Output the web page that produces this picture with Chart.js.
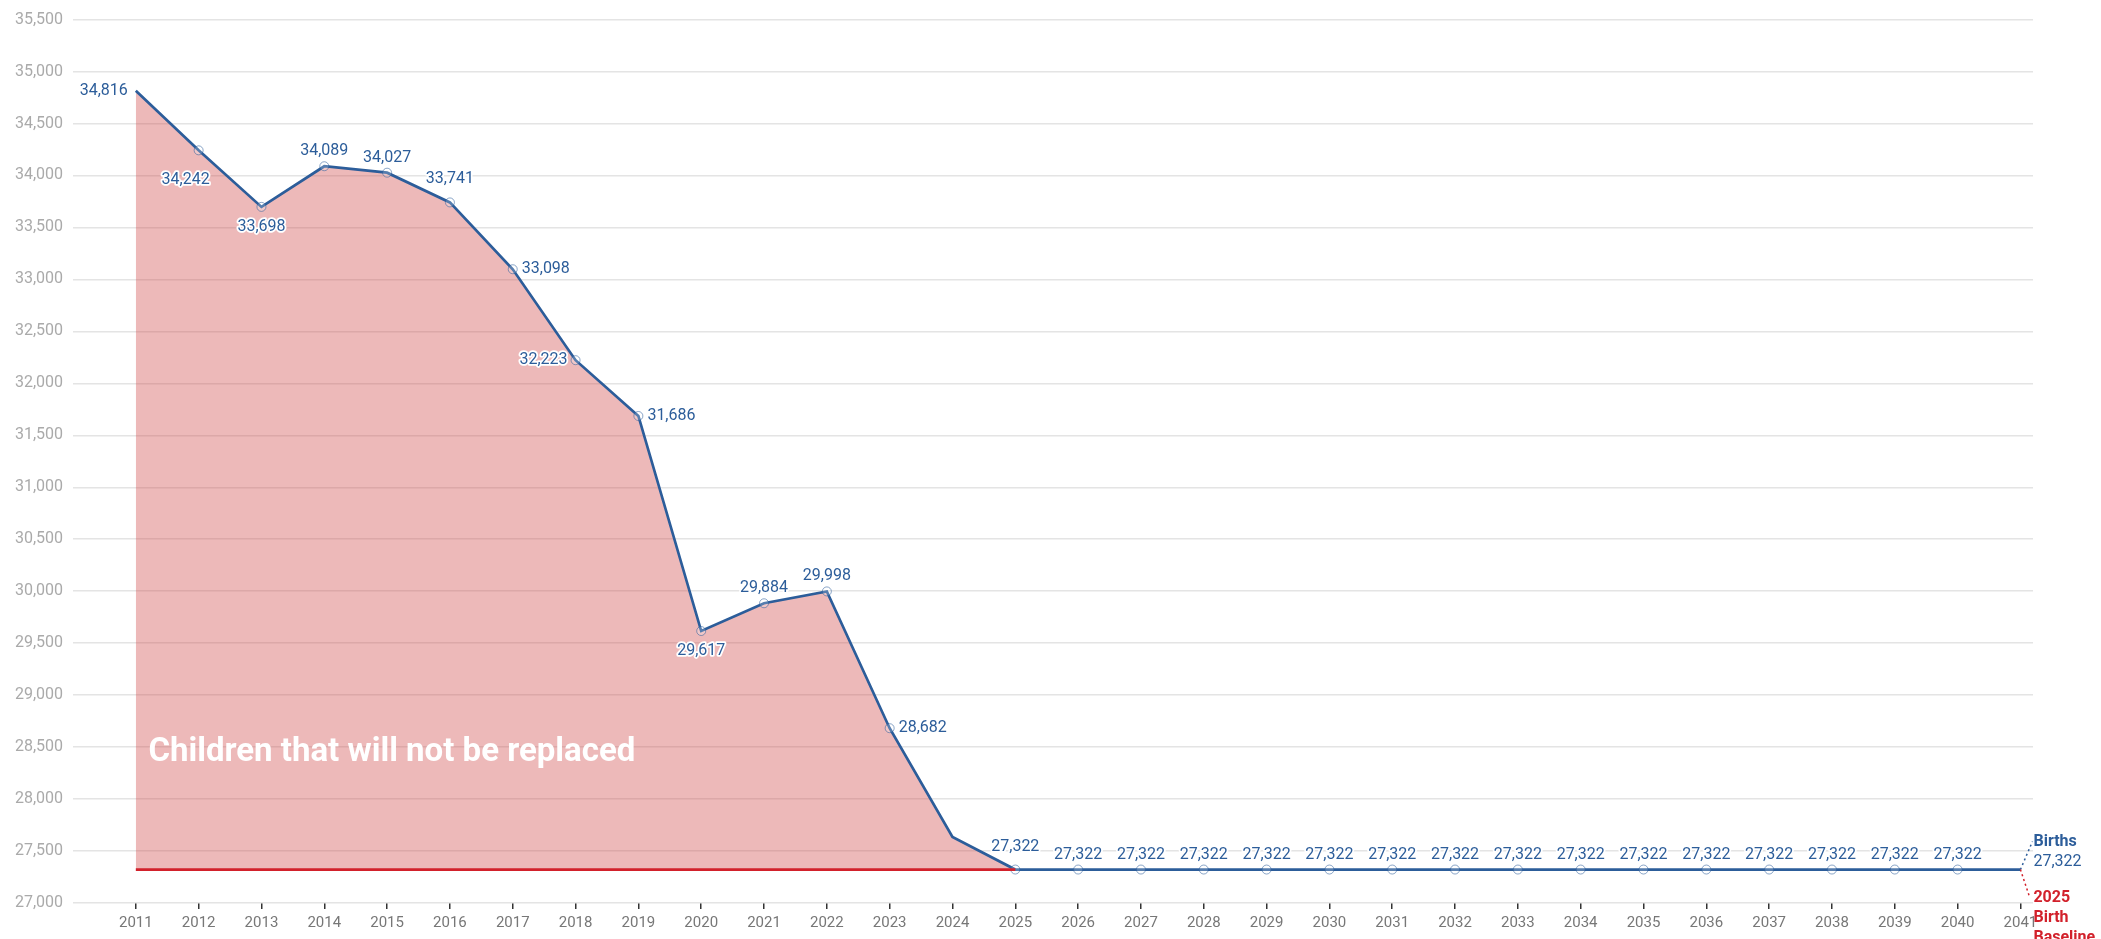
<!DOCTYPE html>
<html><head><meta charset="utf-8">
<script src="https://cdn.jsdelivr.net/npm/chart.js@4.4.1/dist/chart.umd.min.js"></script>
<style>html,body{margin:0;padding:0;background:#fff}#wrap{width:2101px;height:939px;position:relative}</style>
</head><body><div id="wrap"><canvas id="c"></canvas></div>
<script>
// ---- data ----
const years = [2011,2012,2013,2014,2015,2016,2017,2018,2019,2020,2021,2022,2023,2024,2025,2026,2027,2028,2029,2030,2031,2032,2033,2034,2035,2036,2037,2038,2039,2040,2041];
const births = [34816,34242,33698,34089,34027,33741,33098,32223,31686,29617,29884,29998,28682,27635,27322,27322,27322,27322,27322,27322,27322,27322,27322,27322,27322,27322,27322,27322,27322,27322,27322];
const baselineYears = [2011,2025];
const baselineValue = 27322;
const areaLabel = 'Children that will not be replaced';
const birthsEndLabel = ['Births','27,322'];
const baselineEndLabel = ['2025','Birth','Baseline'];
// label placement codes for each births point
const labelPlacement = ['left','belowLeft','below','above','above','aboveHigh','right','left','right','below','above','above','right','none','aboveHigh',
  'above','above','above','above','above','above','above','above','above','above','above','above','above','above','above','none'];

const BLUE = '#2c5d9a', RED = '#d2212b';
const fmt = v => Number(v).toLocaleString('en-US');

const labelPlugin = {
  id:'labels',
  afterDatasetsDraw(chart){
    const ctx = chart.ctx;
    const meta = chart.getDatasetMeta(0);
    const xs = chart.scales.x, ys = chart.scales.y;
    ctx.save();
    // area label
    ctx.font = 'bold 33px Roboto';
    ctx.fillStyle = '#ffffff';
    ctx.textAlign = 'left'; ctx.textBaseline = 'middle';
    ctx.fillText(areaLabel, xs.getPixelForValue(2011.2), ys.getPixelForValue(28450));
    // data labels
    ctx.font = '16px Roboto';
    ctx.lineJoin = 'round';
    meta.data.forEach((pt,i)=>{
      const p = labelPlacement[i];
      if(p==='none') return;
      let x = pt.x, y = pt.y, align='center';
      if(p==='left'){x-=8; align='right';}
      else if(p==='right'){x+=9; align='left';}
      else if(p==='above'){y-=15;}
      else if(p==='aboveHigh'){y-=23;}
      else if(p==='below'){y+=20;}
      else if(p==='belowLeft'){x-=13; y+=30;}
      ctx.textAlign = align; ctx.textBaseline='middle';
      const t = fmt(births[i]);
      ctx.strokeStyle = '#ffffff'; ctx.lineWidth = 3.5;
      ctx.strokeText(t,x,y);
      ctx.fillStyle = BLUE;
      ctx.fillText(t,x,y);
    });
    // end labels
    const last = meta.data[meta.data.length-1];
    const ex = last.x, ey = last.y;
    ctx.setLineDash([2,3]); ctx.lineWidth = 1.5;
    ctx.strokeStyle = BLUE;
    ctx.beginPath(); ctx.moveTo(ex,ey); ctx.lineTo(ex+12,ey-28); ctx.stroke();
    ctx.strokeStyle = RED;
    ctx.beginPath(); ctx.moveTo(ex,ey); ctx.lineTo(ex+9,ey+27); ctx.stroke();
    ctx.setLineDash([]);
    ctx.textAlign='left'; ctx.textBaseline='middle';
    ctx.fillStyle = BLUE;
    ctx.font = 'bold 16px Roboto'; ctx.fillText(birthsEndLabel[0], ex+13, ey-28);
    ctx.font = '16px Roboto'; ctx.fillText(birthsEndLabel[1], ex+13, ey-8);
    ctx.fillStyle = RED; ctx.font = 'bold 16px Roboto';
    baselineEndLabel.forEach((t,k)=>ctx.fillText(t, ex+13, ey+28+k*20));
    ctx.restore();
  }
};

new Chart(document.getElementById('c'), {
  type:'line',
  data:{datasets:[
    {label:'Births', data: years.map((y,i)=>({x:y,y:births[i]})), borderColor:BLUE, borderWidth:2.7,
     fill:{value:baselineValue}, backgroundColor:'rgba(206,62,62,0.36)',
     pointRadius: years.map((y,i)=> (labelPlacement[i]==='none' || i===0) ? 0 : 4.5),
     pointBorderColor:'rgba(44,93,154,0.55)', pointBackgroundColor:'rgba(255,255,255,0.2)', pointBorderWidth:1,
     tension:0, order:2},
    {label:'Baseline', data: baselineYears.map(y=>({x:y,y:baselineValue})), borderColor:RED, borderWidth:2.7,
     pointRadius:0, fill:false, order:1}
  ]},
  options:{
    responsive:true, maintainAspectRatio:false, animation:false,
    layout:{padding:{top:10,right:68,left:0,bottom:2}},
    plugins:{legend:{display:false}, tooltip:{enabled:false}},
    scales:{
      x:{type:'linear', min:2010, max:2041.2,
         afterBuildTicks: s=>{ s.ticks = years.map(v=>({value:v})); },
         ticks:{autoSkip:false, maxRotation:0, color:'#777', font:{family:'Roboto', size:15}, callback:v=>String(v), padding:5},
         grid:{drawOnChartArea:false, color:'#333', tickLength:6, lineWidth:1.5},
         border:{display:false}},
      y:{min:27000, max:35500,
         afterFit: s=>{ s.width = 73; },
         ticks:{stepSize:500, color:'#aaa', font:{family:'Roboto', size:16}, padding:10, callback:v=>fmt(v)},
         grid:{color:'#e4e4e4', lineWidth:1.5, drawTicks:false},
         border:{display:false}}
    }
  },
  plugins:[labelPlugin]
});
</script></body></html>
